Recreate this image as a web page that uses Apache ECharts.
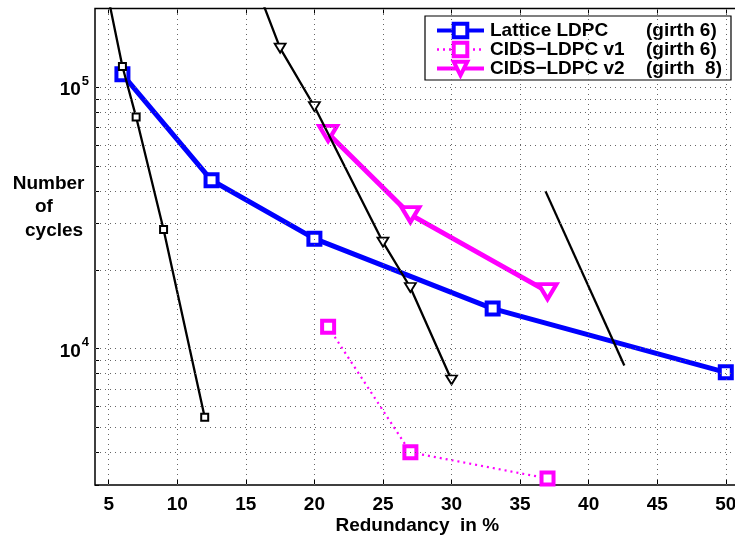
<!DOCTYPE html>
<html>
<head>
<meta charset="utf-8">
<script src="https://cdn.jsdelivr.net/npm/echarts@6/dist/echarts.min.js"></script>
<style>html,body{margin:0;padding:0;background:#fff;}#c{width:735px;height:537px;}</style>
</head>
<body>
<div id="c"></div>
<script>
// ---- data ----
const latticeX = [6, 12.5, 20, 33, 50];
const latticeY = [112000, 44000, 26300, 14200, 8100];
const cidsV1X = [21, 27, 37];
const cidsV1Y = [12100, 4000, 3180];
const cidsV2X = [21, 27, 37];
const cidsV2Y = [66500, 32500, 16500];
const blackSqX = [5, 6, 7, 9, 12];
const blackSqY = [216000, 120000, 76800, 28500, 5450];
const blackTriX = [15, 17.5, 20, 25, 27, 30];
const blackTriY = [310000, 141000, 84300, 25500, 17100, 7570];
const refLineX = [36.85, 42.6];
const refLineY = [40000, 8600];
const xTicks = [5, 10, 15, 20, 25, 30, 35, 40, 45, 50];
const yMajor = [10000, 100000];
const yMinor = [3000, 4000, 5000, 6000, 7000, 8000, 9000, 10000, 20000, 30000, 40000, 50000, 60000, 70000, 80000, 90000, 100000, 200000];
const legendNames = ['Lattice LDPC', 'CIDS\u2212LDPC v1', 'CIDS\u2212LDPC v2'];
const legendGirth = ['(girth 6)', '(girth 6)', '(girth  8)'];

const pair = (xs, ys) => xs.map((x, i) => [x, ys[i]]);
const FONT = '"Liberation Sans", Arial, Helvetica, sans-serif';
const gridStyle = { color: '#666', width: 1, type: [1, 4] };
const BLUE = '#0000ff', MAG = '#ff00ff';

const chart = echarts.init(document.getElementById('c'), null, { renderer: 'canvas' });
const option = {
  animation: false,
  backgroundColor: '#fff',
  textStyle: { fontFamily: FONT },
  grid: { left: 95, top: 8.5, right: -4.5, bottom: 52, outerBoundsMode: 'none', show: true, borderColor: '#000', borderWidth: 1.5, backgroundColor: 'transparent', containLabel: false },
  xAxis: [{
    type: 'value', min: 4, max: 51, position: 'bottom',
    name: 'Redundancy  in %', nameLocation: 'middle', nameGap: 31, nameMoveOverlap: false,
    nameTextStyle: { fontFamily: FONT, fontWeight: 'bold', fontSize: 19, color: '#000' },
    axisLine: { show: false },
    axisTick: { show: true, inside: true, length: 5, customValues: xTicks, lineStyle: { color: '#000', width: 1 } },
    axisLabel: { show: true, customValues: xTicks, margin: 10, fontFamily: FONT, fontWeight: 'bold', fontSize: 19, color: '#000', hideOverlap: false },
    splitLine: { show: false }
  }, {
    type: 'value', min: 4, max: 51, position: 'top',
    axisLine: { show: false },
    axisTick: { show: true, inside: true, length: 5, customValues: xTicks, lineStyle: { color: '#000', width: 1 } },
    axisLabel: { show: false },
    splitLine: { show: false }
  }],
  yAxis: [{
    type: 'log', logBase: 10, min: 3000, max: 200000,
    axisLine: { show: false },
    axisTick: { show: true, inside: true, length: 4, customValues: yMinor, lineStyle: { color: '#000', width: 1 } },
    axisLabel: {
      show: true, customValues: yMajor, margin: 6,
      formatter: function (v) { return '{b|10}{s|' + Math.round(Math.log10(v)) + '}'; },
      rich: {
        b: { fontFamily: FONT, fontWeight: 'bold', fontSize: 19, color: '#000', padding: [6, 0, 0, 0] },
        s: { fontFamily: FONT, fontWeight: 'bold', fontSize: 13, color: '#000', verticalAlign: 'top', padding: [0, 0, 8, 1] }
      }
    },
    splitLine: { show: false }
  }],
  legend: {
    data: [
      { name: legendNames[0], lineStyle: { width: 4, color: BLUE }, itemStyle: { borderWidth: 4, borderColor: BLUE, color: '#fff' } },
      { name: legendNames[1], lineStyle: { width: 2.5, color: MAG, type: [2, 4] }, itemStyle: { borderWidth: 4, borderColor: MAG, color: '#fff' } },
      { name: legendNames[2], lineStyle: { width: 4, color: MAG }, itemStyle: { borderWidth: 4, borderColor: MAG, color: '#fff' } }
    ],
    orient: 'vertical', left: 425, top: 16,
    padding: [5, 9, 2, 10], itemGap: 0,
    itemWidth: 47, itemHeight: 17,
    backgroundColor: '#fff', borderColor: '#000', borderWidth: 1.2, borderRadius: 0,
    formatter: function (name) {
      const i = legendNames.indexOf(name);
      return '{a|' + name + '}{b|' + legendGirth[i] + '}';
    },
    textStyle: {
      rich: {
        a: { fontFamily: FONT, fontWeight: 'bold', fontSize: 19, color: '#000', width: 156, lineHeight: 24, padding: [0, 0, 0, 1] },
        b: { fontFamily: FONT, fontWeight: 'bold', fontSize: 19, color: '#000', lineHeight: 24 }
      }
    }
  },
  series: [
    {
      name: 'grid', type: 'line', data: [], silent: true, z: 1,
      markLine: {
        silent: true, symbol: ['none', 'none'], label: { show: false }, animation: false,
        lineStyle: gridStyle,
        data: xTicks.map(v => ({ xAxis: v })).concat(yMinor.filter(v => v > 3000 && v < 200000).map(v => ({ yAxis: v })))
      }
    },
    {
      name: legendNames[0], type: 'line', data: pair(latticeX, latticeY), z: 3,
      lineStyle: { color: BLUE, width: 5 },
      symbol: 'rect', symbolSize: 12,
      itemStyle: { color: '#fff', borderColor: BLUE, borderWidth: 4 }
    },
    {
      name: legendNames[1], type: 'line', data: pair(cidsV1X, cidsV1Y), z: 3,
      lineStyle: { color: MAG, width: 2.2, type: [2, 4] },
      symbol: 'rect', symbolSize: 12,
      itemStyle: { color: '#fff', borderColor: MAG, borderWidth: 4 }
    },
    {
      name: legendNames[2], type: 'line', data: pair(cidsV2X, cidsV2Y), z: 3,
      lineStyle: { color: MAG, width: 5 },
      symbol: 'triangle', symbolRotate: 180, symbolSize: [18, 15],
      itemStyle: { color: '#fff', borderColor: MAG, borderWidth: 4 }
    },
    {
      name: 'blackSq', type: 'line', data: pair(blackSqX, blackSqY), z: 4,
      lineStyle: { color: '#000', width: 2.3 },
      symbol: 'rect', symbolSize: 7,
      itemStyle: { color: '#fff', borderColor: '#000', borderWidth: 2 }
    },
    {
      name: 'blackTri', type: 'line', data: pair(blackTriX, blackTriY), z: 4,
      lineStyle: { color: '#000', width: 2.3 },
      symbol: 'triangle', symbolRotate: 180, symbolSize: [11, 9],
      itemStyle: { color: '#fff', borderColor: '#000', borderWidth: 1.8 }
    },
    {
      name: 'ref', type: 'line', data: pair(refLineX, refLineY), z: 4,
      lineStyle: { color: '#000', width: 2.3 }, symbol: 'none'
    }
  ],
  graphic: [
    { type: 'text', x: 12.7, y: 184, style: { text: 'Number', font: 'bold 19px ' + FONT, fill: '#000', verticalAlign: 'middle' } },
    { type: 'text', x: 35, y: 207, style: { text: 'of', font: 'bold 19px ' + FONT, fill: '#000', verticalAlign: 'middle' } },
    { type: 'text', x: 25, y: 231, style: { text: 'cycles', font: 'bold 19px ' + FONT, fill: '#000', verticalAlign: 'middle' } }
  ]
};
chart.setOption(option);
</script>
</body>
</html>
